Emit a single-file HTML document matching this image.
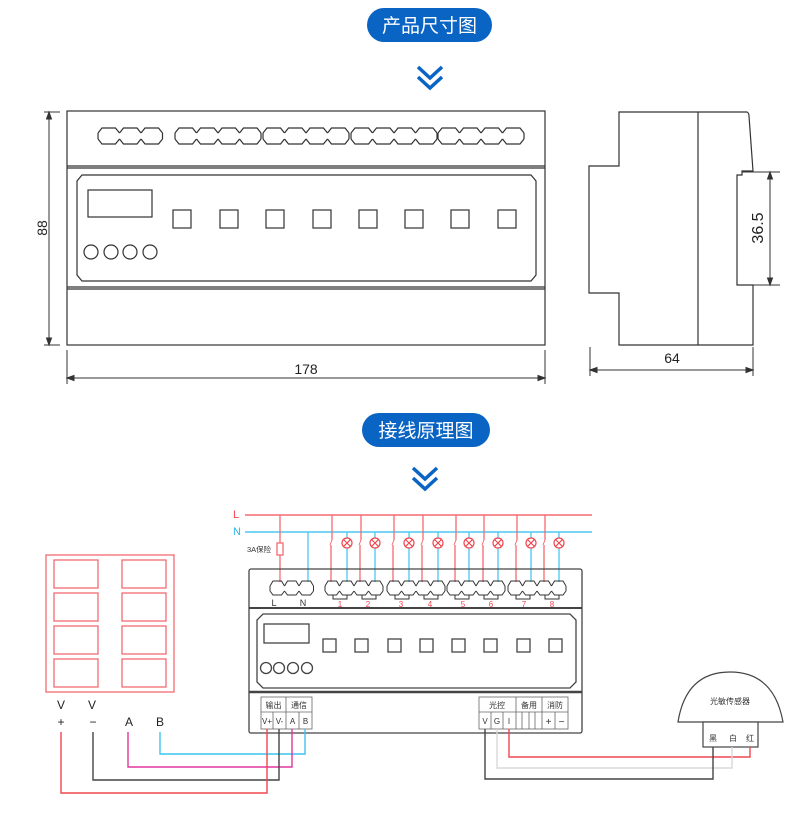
<!DOCTYPE html>
<html><head><meta charset="utf-8"><style>
html,body{margin:0;padding:0;background:#fff;}
svg{display:block;font-family:"Liberation Sans","Noto Sans CJK SC",sans-serif;}
</style></head><body>
<svg width="800" height="816" viewBox="0 0 800 816" xmlns="http://www.w3.org/2000/svg">
<defs>
<g id="lobe"><path d="M0,6 L4,1 L17.5,1 L21.5,6 M0,12 L4,17 L17.5,17 L21.5,12" fill="none" stroke="#333" stroke-width="1.2"/></g>
<g id="lobe2"><path d="M0,6 L3,1 L11.5,1 L14.5,6 M0,11 L3,15 L11.5,15 L14.5,11" fill="none" stroke="#333" stroke-width="1"/></g>
</defs>
<!-- header 1 -->
<rect x="367" y="8" width="125" height="34" rx="17" fill="#0a64c4"/>
<text x="429.5" y="32" font-size="19" fill="#fff" text-anchor="middle">产品尺寸图</text>
<polyline points="418,67 430,78 442,67" fill="none" stroke="#0a64c4" stroke-width="3.5"/>
<polyline points="418,77 430,88 442,77" fill="none" stroke="#0a64c4" stroke-width="3.5"/>

<!-- front view -->
<g fill="none" stroke="#333" stroke-width="1.2">
<rect x="67" y="111" width="478" height="234"/>
<line x1="67" y1="166" x2="545" y2="166"/><line x1="67" y1="168" x2="545" y2="168"/>
<line x1="67" y1="287" x2="545" y2="287"/><line x1="67" y1="289" x2="545" y2="289"/>
<polygon points="82,175 531,175 536,181 536,275 531,281 82,281 77,275 77,181"/>
<rect x="88" y="190" width="64" height="27"/>
<rect x="173" y="210" width="18" height="18"/><rect x="220" y="210" width="18" height="18"/>
<rect x="266" y="210" width="18" height="18"/><rect x="313" y="210" width="18" height="18"/>
<rect x="359" y="210" width="18" height="18"/><rect x="405" y="210" width="18" height="18"/>
<rect x="451" y="210" width="18" height="18"/><rect x="498" y="210" width="18" height="18"/>
<circle cx="91" cy="252" r="7"/><circle cx="111" cy="252" r="7"/><circle cx="130" cy="252" r="7"/><circle cx="150" cy="252" r="7"/>
</g>
<g transform="translate(0,127)">
<use href="#lobe" x="98"/><use href="#lobe" x="119.5"/><use href="#lobe" x="141"/>
<use href="#lobe" x="175"/><use href="#lobe" x="196.5"/><use href="#lobe" x="218"/><use href="#lobe" x="239.5"/>
<use href="#lobe" x="263"/><use href="#lobe" x="284.5"/><use href="#lobe" x="306"/><use href="#lobe" x="327.5"/>
<use href="#lobe" x="351"/><use href="#lobe" x="372.5"/><use href="#lobe" x="394"/><use href="#lobe" x="415.5"/>
<use href="#lobe" x="438"/><use href="#lobe" x="459.5"/><use href="#lobe" x="481"/><use href="#lobe" x="502.5"/>
<path d="M98,6V12M162.5,6V12M175,6V12M261,6V12M263,6V12M349,6V12M351,6V12M437,6V12M438,6V12M524,6V12" stroke="#333" stroke-width="1.2"/>
</g>
<!-- dims front -->
<g stroke="#333" stroke-width="1" fill="#333">
<line x1="44" y1="112" x2="60" y2="112"/><line x1="44" y1="345" x2="60" y2="345"/>
<line x1="49" y1="114" x2="49" y2="343"/>
<polygon points="49,112 46.5,119 51.5,119"/><polygon points="49,345 46.5,338 51.5,338"/>
<line x1="67" y1="350" x2="67" y2="384"/><line x1="545" y1="350" x2="545" y2="384"/>
<line x1="69" y1="378" x2="543" y2="378"/>
<polygon points="67,378 74,375.5 74,380.5"/><polygon points="545,378 538,375.5 538,380.5"/>
</g>
<text x="42" y="228" font-size="14" fill="#222" text-anchor="middle" transform="rotate(-90 42 228)" dy="5">88</text>
<text x="306" y="374" font-size="14" fill="#222" text-anchor="middle">178</text>

<!-- side view -->
<g fill="none" stroke="#333" stroke-width="1.2">
<path d="M619,112 L747,112 Q749,113 749,116 L753,171 L742,171 L742,175 L737,175 L737,285 L753,285 L753,345 L619,345 L619,293 L589,293 L589,166 L619,166 Z"/>
<line x1="698" y1="112" x2="698" y2="345"/>
</g>
<g stroke="#333" stroke-width="1" fill="#333">
<line x1="742" y1="172" x2="780" y2="172"/><line x1="742" y1="285" x2="780" y2="285"/>
<line x1="770" y1="174" x2="770" y2="283"/>
<polygon points="770,172 767.5,179 772.5,179"/><polygon points="770,285 767.5,278 772.5,278"/>
<line x1="590" y1="347" x2="590" y2="376"/><line x1="753" y1="347" x2="753" y2="376"/>
<line x1="592" y1="370" x2="751" y2="370"/>
<polygon points="590,370 597,367.5 597,372.5"/><polygon points="753,370 746,367.5 746,372.5"/>
</g>
<text x="763" y="228" font-size="16" fill="#222" text-anchor="middle" transform="rotate(-90 763 228)" dy="0">36.5</text>
<text x="672" y="363" font-size="14" fill="#222" text-anchor="middle">64</text>

<!-- header 2 -->
<rect x="362" y="413" width="128" height="34" rx="17" fill="#0a64c4"/>
<text x="426" y="437" font-size="19" fill="#fff" text-anchor="middle">接线原理图</text>
<polyline points="413,468 425,479 437,468" fill="none" stroke="#0a64c4" stroke-width="3.5"/>
<polyline points="413,478 425,489 437,478" fill="none" stroke="#0a64c4" stroke-width="3.5"/>

<!-- L N lines -->
<text x="233" y="518" font-size="11" fill="#f04650">L</text>
<text x="233" y="535" font-size="11" fill="#2ab8e8">N</text>
<line x1="245" y1="515" x2="592" y2="515" stroke="#f36b72" stroke-width="1.5"/>
<line x1="245" y1="532" x2="592" y2="532" stroke="#4cc8f0" stroke-width="1.5"/>
<g stroke="#f36b72" stroke-width="1.3" fill="none">
<line x1="280" y1="515" x2="280" y2="582"/>
<rect x="277" y="543" width="6" height="12" fill="#fff"/>
</g>
<text x="247" y="552" font-size="7.5" fill="#333">3A保险</text>
<line x1="308" y1="532" x2="308" y2="582" stroke="#4cc8f0" stroke-width="1.3"/>
<g id="chs" stroke-width="1.3" fill="none">
<path d="M332,515V540M331,545V582M361,515V540M360,545V582M394,515V540M393,545V582M423,515V540M422,545V582M456,515V540M455,545V582M484,515V540M483,545V582M517,515V540M516,545V582M545,515V540M544,545V582" stroke="#f36b72"/>
<path d="M332,540L330,545M361,540L359,545M394,540L392,545M423,540L421,545M456,540L454,545M484,540L482,545M517,540L515,545M545,540L543,545" stroke="#f36b72" stroke-width="1"/>
<path d="M347,532V538M347,548V582M375,532V538M375,548V582M409,532V538M409,548V582M438,532V538M438,548V582M469,532V538M469,548V582M498,532V538M498,548V582M531,532V538M531,548V582M559,532V538M559,548V582" stroke="#4cc8f0"/>
</g>
<g stroke="#f04650" stroke-width="1.2" fill="#fff">
<g transform="translate(347,543)"><circle r="5"/><path d="M-3.5,-3.5L3.5,3.5M3.5,-3.5L-3.5,3.5"/></g>
<g transform="translate(375,543)"><circle r="5"/><path d="M-3.5,-3.5L3.5,3.5M3.5,-3.5L-3.5,3.5"/></g>
<g transform="translate(409,543)"><circle r="5"/><path d="M-3.5,-3.5L3.5,3.5M3.5,-3.5L-3.5,3.5"/></g>
<g transform="translate(438,543)"><circle r="5"/><path d="M-3.5,-3.5L3.5,3.5M3.5,-3.5L-3.5,3.5"/></g>
<g transform="translate(469,543)"><circle r="5"/><path d="M-3.5,-3.5L3.5,3.5M3.5,-3.5L-3.5,3.5"/></g>
<g transform="translate(498,543)"><circle r="5"/><path d="M-3.5,-3.5L3.5,3.5M3.5,-3.5L-3.5,3.5"/></g>
<g transform="translate(531,543)"><circle r="5"/><path d="M-3.5,-3.5L3.5,3.5M3.5,-3.5L-3.5,3.5"/></g>
<g transform="translate(559,543)"><circle r="5"/><path d="M-3.5,-3.5L3.5,3.5M3.5,-3.5L-3.5,3.5"/></g>
</g>

<!-- device -->
<g fill="none" stroke="#444" stroke-width="1.3">
<rect x="249" y="569" width="333" height="164" rx="2"/>
<line x1="249" y1="608" x2="582" y2="608" stroke-width="2"/>
<line x1="249" y1="692" x2="582" y2="692" stroke-width="2.5"/>
<polygon points="263,614 570,614 576,620 576,682 570,688 263,688 257,682 257,620"/>
<rect x="264" y="624" width="45" height="19"/>
<rect x="323" y="639" width="13" height="13"/><rect x="355" y="639" width="13" height="13"/>
<rect x="388" y="639" width="13" height="13"/><rect x="420" y="639" width="13" height="13"/>
<rect x="452" y="639" width="13" height="13"/><rect x="484" y="639" width="13" height="13"/>
<rect x="517" y="639" width="13" height="13"/><rect x="549" y="639" width="13" height="13"/>
<circle cx="266" cy="668" r="5.5"/><circle cx="279" cy="668" r="5.5"/><circle cx="293" cy="668" r="5.5"/><circle cx="307" cy="668" r="5.5"/>
</g>
<g transform="translate(0,580)">
<use href="#lobe2" x="270"/><use href="#lobe2" x="284.5"/><use href="#lobe2" x="299"/>
<use href="#lobe2" x="325"/><use href="#lobe2" x="339.5"/><use href="#lobe2" x="354"/><use href="#lobe2" x="368.5"/>
<use href="#lobe2" x="387"/><use href="#lobe2" x="401.5"/><use href="#lobe2" x="416"/><use href="#lobe2" x="430.5"/>
<use href="#lobe2" x="447"/><use href="#lobe2" x="461.5"/><use href="#lobe2" x="476"/><use href="#lobe2" x="490.5"/>
<use href="#lobe2" x="508"/><use href="#lobe2" x="522.5"/><use href="#lobe2" x="537"/><use href="#lobe2" x="551.5"/>
<path d="M270,6V11M313.5,6V11M325,6V11M383,6V11M387,6V11M445,6V11M447,6V11M505,6V11M508,6V11M566,6V11" stroke="#333"/>
<path d="M333,15V19H347V15M362,15V19H376V15M395,15V19H409V15M424,15V19H438V15M455,15V19H469V15M484,15V19H498V15M516,15V19H530V15M545,15V19H559V15" fill="none" stroke="#333"/>
</g>
<g font-size="9" text-anchor="middle">
<text x="274" y="606" fill="#333">L</text><text x="303" y="606" fill="#333">N</text>
<g fill="#f04650" font-size="8"><text x="340" y="607">1</text><text x="368" y="607">2</text><text x="401" y="607">3</text><text x="430" y="607">4</text><text x="463" y="607">5</text><text x="491" y="607">6</text><text x="524" y="607">7</text><text x="552" y="607">8</text></g>
</g>
<!-- bottom terminal tables -->
<g fill="none" stroke="#666" stroke-width="0.8">
<rect x="261" y="697" width="51" height="32"/>
<line x1="261" y1="712" x2="312" y2="712"/>
<line x1="286" y1="697" x2="286" y2="729"/>
<line x1="273" y1="712" x2="273" y2="729"/><line x1="299" y1="712" x2="299" y2="729"/>
<rect x="479" y="697" width="89" height="32"/>
<line x1="479" y1="712" x2="568" y2="712"/>
<line x1="516" y1="697" x2="516" y2="729"/><line x1="542" y1="697" x2="542" y2="729"/>
<line x1="491" y1="712" x2="491" y2="729"/><line x1="503" y1="712" x2="503" y2="729"/>
<line x1="522" y1="712" x2="522" y2="729"/><line x1="529" y1="712" x2="529" y2="729"/><line x1="535" y1="712" x2="535" y2="729"/>
<line x1="555" y1="712" x2="555" y2="729"/>
</g>
<g font-size="8" fill="#333" text-anchor="middle">
<text x="273.5" y="708">输出</text><text x="299" y="708">通信</text>
<text x="267" y="724">V+</text><text x="279.5" y="724">V-</text><text x="292.5" y="724">A</text><text x="305.5" y="724">B</text>
<text x="497" y="708">光控</text><text x="529" y="708">备用</text><text x="555" y="708">消防</text>
<text x="485" y="724">V</text><text x="497" y="724">G</text><text x="509" y="724">I</text>
<text x="548.5" y="725" font-size="10">+</text><text x="561.5" y="725" font-size="10">−</text>
</g>

<!-- sensor -->
<path d="M678,722 Q686,672 730,672 Q774,672 783,722 Z" fill="#fff" stroke="#444" stroke-width="1.2"/>
<rect x="703" y="722" width="55" height="25" fill="#fff" stroke="#444" stroke-width="1.2"/>
<g font-size="8" fill="#333" text-anchor="middle">
<text x="730" y="704">光敏传感器</text>
<text x="713" y="741">黑</text><text x="733" y="741">白</text><text x="750" y="741">红</text>
</g>
<g fill="none" stroke-width="1.4">
<polyline points="509,729 509,757 750,757 750,747" stroke="#f04650"/>
<polyline points="497,729 497,768 732,768 732,747" stroke="#d8d8d8"/>
<polyline points="485,729 485,779 713,779 713,747" stroke="#444"/>
</g>

<!-- left panel -->
<g fill="none" stroke="#f36b72" stroke-width="1.3">
<rect x="46" y="555" width="128" height="137"/>
<rect x="54" y="560" width="44" height="28"/><rect x="122" y="560" width="44" height="28"/>
<rect x="54" y="593" width="44" height="28"/><rect x="122" y="593" width="44" height="28"/>
<rect x="54" y="626" width="44" height="28"/><rect x="122" y="626" width="44" height="28"/>
<rect x="54" y="659" width="44" height="28"/><rect x="122" y="659" width="44" height="28"/>
</g>
<g font-size="12" fill="#222" text-anchor="middle">
<text x="61" y="709">V</text><text x="92" y="709">V</text>
<text x="61" y="726">+</text><text x="93" y="726">−</text>
<text x="129" y="726">A</text><text x="160" y="726">B</text>
</g>
<g fill="none" stroke-width="1.4">
<polyline points="160,732 160,754 305,754 305,729" stroke="#3cc4ee"/>
<polyline points="128,732 128,767 292,767 292,729" stroke="#e0359d"/>
<polyline points="93,732 93,780 279,780 279,729" stroke="#444"/>
<polyline points="61,732 61,793 267,793 267,729" stroke="#f04650"/>
</g>
</svg>
</body></html>
